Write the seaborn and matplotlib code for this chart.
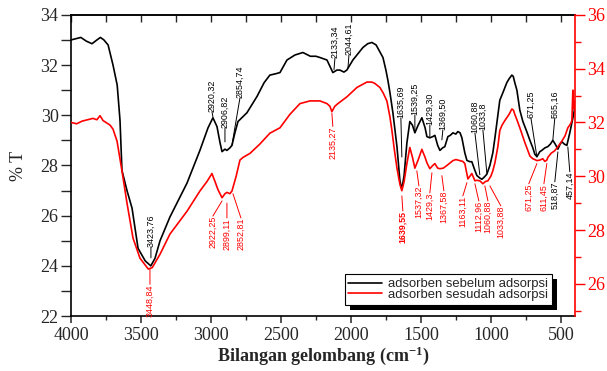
import numpy as np
import pandas as pd
import matplotlib
matplotlib.use("Agg")
import matplotlib.pyplot as plt
import seaborn as sns
from matplotlib import font_manager as fm
from matplotlib.ticker import MultipleLocator
from matplotlib.patches import Rectangle
from matplotlib.transforms import IdentityTransform

# ---------------- data ----------------
wn_before = [4000, 3965, 3930, 3890, 3850, 3815, 3790, 3765, 3735, 3700, 3670, 3650, 3636, 3600,
             3564, 3521, 3470, 3430, 3400, 3364, 3293, 3171, 3079, 3021, 2986, 2957, 2935, 2921,
             2900, 2886, 2865, 2850, 2829, 2807, 2743, 2671, 2620, 2579, 2540, 2507, 2457, 2400,
             2343, 2290, 2250, 2221, 2171, 2150, 2129, 2100, 2079, 2050, 2029, 1986, 1950, 1914,
             1880, 1850, 1820, 1800, 1771, 1750, 1736, 1721, 1700, 1671, 1650, 1636, 1620, 1600,
             1579, 1560, 1543, 1520, 1493, 1470, 1457, 1436, 1415, 1400, 1380, 1364, 1345, 1329,
             1307, 1290, 1271, 1250, 1236, 1220, 1207, 1186, 1171, 1150, 1136, 1114, 1100, 1079,
             1064, 1045, 1029, 1007, 986, 971, 950, 936, 914, 886, 870, 850, 840, 829, 814, 793,
             771, 757, 740, 721, 700, 686, 671, 650, 636, 614, 593, 575, 557, 540, 521, 505, 493,
             475, 457, 436, 421, 410, 400]
t_before = [33.0, 33.05, 33.1, 32.95, 32.85, 33.0, 33.1, 33.0, 32.8, 32.0, 31.2, 29.8, 27.8, 27.0,
            26.3, 24.7, 24.2, 24.0, 24.3, 25.0, 25.95, 27.3, 28.6, 29.5, 29.9, 29.55, 28.9, 28.55,
            28.65, 28.6, 28.7, 28.8, 29.3, 29.75, 30.1, 30.75, 31.3, 31.6, 31.65, 31.7, 32.2, 32.4,
            32.5, 32.35, 32.35, 32.3, 32.2, 31.95, 31.7, 31.8, 31.8, 31.72, 31.8, 32.2, 32.45, 32.7,
            32.85, 32.9, 32.8, 32.6, 32.3, 31.8, 31.4, 30.9, 30.1, 28.75, 27.4, 27.05, 27.6, 28.9,
            29.75, 29.6, 29.3, 29.6, 29.9, 29.5, 29.15, 29.1, 29.15, 29.2, 28.8, 28.6, 28.7, 28.75,
            29.15, 29.2, 29.3, 29.25, 29.35, 29.3, 29.1, 28.5, 28.2, 28.15, 28.15, 27.8, 27.6, 27.5,
            27.45, 27.55, 27.65, 28.0, 28.5, 29.1, 30.0, 30.6, 30.9, 31.3, 31.45, 31.6, 31.55, 31.3, 31.0, 30.2,
            29.75, 29.55, 29.3, 29.0, 28.7, 28.45, 28.35, 28.55, 28.6, 28.7, 28.75, 28.85, 29.0, 28.85, 28.65, 28.85, 28.95,
            28.85, 28.8, 29.3, 29.7, 30.0, 30.3]

wn_after = [4000, 3960, 3920, 3880, 3843, 3815, 3793, 3771, 3736, 3721, 3700, 3671, 3636, 3600,
            3557, 3507, 3470, 3448, 3420, 3364, 3293, 3171, 3079, 3029, 2993, 2971, 2950, 2921,
            2900, 2886, 2865, 2850, 2820, 2793, 2771, 2721, 2650, 2579, 2507, 2436, 2364, 2293,
            2221, 2171, 2150, 2136, 2115, 2093, 2029, 1957, 1886, 1850, 1829, 1793, 1770, 1743,
            1721, 1707, 1690, 1671, 1650, 1636, 1620, 1600, 1579, 1560, 1543, 1520, 1493, 1470,
            1457, 1436, 1415, 1400, 1380, 1364, 1340, 1314, 1290, 1271, 1250, 1221, 1200, 1186,
            1164, 1150, 1136, 1114, 1100, 1079, 1057, 1040, 1021, 1000, 986, 971, 950, 936, 920,
            900, 870, 850, 838, 829, 814, 793, 757, 721, 700, 686, 671, 650, 629, 614, 600, 593,
            570, 543, 521, 493, 470, 450, 430, 421, 414, 408, 404, 400]
t_after = [32.0, 31.95, 32.05, 32.1, 32.15, 32.1, 32.25, 32.07, 31.95, 31.9, 31.75, 31.3, 30.2, 29.0,
           27.7, 26.95, 26.7, 26.55, 26.6, 27.1, 27.85, 28.7, 29.45, 29.8, 30.1, 29.8, 29.5, 29.2,
           29.35, 29.4, 29.35, 29.45, 30.0, 30.6, 30.7, 30.85, 31.2, 31.6, 31.8, 32.3, 32.7, 32.8,
           32.8, 32.7, 32.6, 32.4, 32.6, 32.7, 32.95, 33.3, 33.5, 33.5, 33.45, 33.3, 33.1, 32.8,
           32.2, 31.7, 31.0, 30.3, 29.7, 29.46, 29.8, 30.47, 31.07, 30.7, 30.3, 30.6, 31.0, 30.7,
           30.5, 30.28, 30.4, 30.47, 30.3, 30.28, 30.3, 30.4, 30.5, 30.58, 30.62, 30.58, 30.55, 30.47,
           29.9, 30.0, 30.1, 29.83, 29.85, 29.83, 29.72, 29.8, 29.83, 30.0, 30.2, 30.5, 31.1, 31.7, 31.9,
           32.07, 32.3, 32.5, 32.45, 32.3, 32.1, 31.8, 31.25, 30.75, 30.65, 30.62, 30.58, 30.6, 30.65, 30.55, 30.6, 30.7,
           30.85, 30.95, 31.1, 31.3, 31.5, 31.8, 31.95, 32.07, 33.2, 32.5, 32.8, 32.6]

series_labels = ["adsorben sebelum adsorpsi", "adsorben sesudah adsorpsi"]

# peak labels: (text, text x, text y, tip x, tip y, above?)
labels_before = [
    ("3423,76", 3429, 24.76, 3429, 24.32, True),
    ("2920,32", 2993, 30.14, 2986, 29.94, True),
    ("2906,82", 2900, 29.50, 2900, 28.94, True),
    ("2854,74", 2793, 30.69, 2850, 28.82, True),
    ("2133,34", 2114, 32.29, 2121, 31.81, True),
    ("2044,61", 2014, 32.41, 2021, 31.89, True),
    ("1635,69", 1643, 29.90, 1636, 28.34, True),
    ("1539,25", 1543, 30.02, 1543, 29.34, True),
    ("1429,30", 1436, 29.62, 1436, 29.14, True),
    ("1369,50", 1343, 29.42, 1350, 29.02, True),
    ("1060,88", 1114, 29.30, 1079, 27.63, True),
    ("1033,8", 1057, 29.42, 1029, 27.71, True),
    ("671,25", 714, 29.90, 671, 28.34, True),
    ("565,16", 543, 29.90, 557, 29.02, True),
    ("518,87", 543, 27.35, 521, 28.54, False),
    ("457,14", 436, 27.75, 450, 28.74, False),
]
labels_after = [
    ("3448,84", 3436, 25.98, 3436, 26.54, False),
    ("2922,25", 2986, 28.52, 2921, 29.08, False),
    ("2899,11", 2886, 28.45, 2886, 29.00, False),
    ("2852,81", 2786, 28.45, 2843, 29.35, False),
    ("2135,27", 2129, 31.85, 2136, 32.34, False),
    ("1639,55", 1629, 28.71, 1636, 29.27, False),
    ("1537,32", 1514, 29.64, 1529, 30.20, False),
    ("1429,3", 1436, 29.38, 1421, 30.13, False),
    ("1367,58", 1336, 29.46, 1350, 30.02, False),
    ("1163,11", 1200, 29.27, 1171, 29.76, False),
    ("1112,96", 1086, 29.08, 1114, 29.72, False),
    ("1060,88", 1021, 29.08, 1043, 29.64, False),
    ("1033,88", 929, 28.90, 1007, 29.64, False),
    ("671,25", 729, 29.72, 671, 30.47, False),
    ("611,45", 621, 29.72, 600, 30.47, False),
]

# ---------------- style ----------------
sns.set_style("ticks")
names = {f.name for f in fm.fontManager.ttflist}
narrow = "Liberation Sans Narrow" if "Liberation Sans Narrow" in names else "Liberation Sans"
plt.rcParams["font.family"] = ["Liberation Serif", "DejaVu Serif"]
plt.rcParams["mathtext.fontset"] = "custom"
plt.rcParams["mathtext.rm"] = "Liberation Serif:bold"
plt.rcParams["mathtext.it"] = "Liberation Serif:bold"
plt.rcParams["mathtext.bf"] = "Liberation Serif:bold"

fig = plt.figure(figsize=(6.07, 3.71), dpi=100)
ax = fig.add_axes([0.117, 0.148, 0.830, 0.812])
ax2 = ax.twinx()

df_b = pd.DataFrame({"wn": wn_before, "T": t_before})
df_a = pd.DataFrame({"wn": wn_after, "T": t_after})
sns.lineplot(data=df_b, x="wn", y="T", ax=ax, color="black", lw=1.2, estimator=None,
             label=series_labels[0], legend=False)
sns.lineplot(data=df_a, x="wn", y="T", ax=ax2, color="#ff0000", lw=1.2, estimator=None,
             label=series_labels[1], legend=False)

ax.set_xlim(4000, 400)
ax.set_ylim(22, 34)
ax2.set_ylim(24.8, 36)

ax.xaxis.set_major_locator(MultipleLocator(500))
ax.xaxis.set_minor_locator(MultipleLocator(250))
ax.yaxis.set_major_locator(MultipleLocator(2))
ax.yaxis.set_minor_locator(MultipleLocator(1))
ax2.yaxis.set_major_locator(MultipleLocator(2))
ax2.yaxis.set_minor_locator(MultipleLocator(1))

for s in ax.spines.values():
    s.set_linewidth(1.2)
    s.set_color("black")
for k in ["left", "top", "bottom"]:
    ax2.spines[k].set_visible(False)
ax2.spines["right"].set_color("#ff0000")
ax2.spines["right"].set_linewidth(1.2)
ax.spines["right"].set_visible(False)

ax.tick_params(axis="x", which="major", direction="out", length=5, width=1.1, labelsize=13,
               bottom=True, top=False, pad=3)
ax.tick_params(axis="x", which="minor", direction="out", length=3, width=1.0, bottom=True, top=False)
ax.tick_params(axis="y", which="both", direction="out", length=7, width=1.0, labelsize=13,
               left=True, right=False, pad=2)
ax2.tick_params(axis="y", which="major", direction="out", length=7, width=1.0, colors="#ff0000",
                labelsize=13, pad=2)
ax2.tick_params(axis="y", which="minor", direction="out", length=4, width=1.0, colors="#ff0000")

# inward ticks on top spine
secx = ax.secondary_xaxis("top")
secx.xaxis.set_major_locator(MultipleLocator(500))
secx.xaxis.set_minor_locator(MultipleLocator(250))
secx.tick_params(axis="x", which="both", direction="in", length=5, width=1.0, labeltop=False)
secx.spines["top"].set_linewidth(1.2)

ax.set_xlabel("Bilangan gelombang (cm$^{-1}$)", fontsize=13, fontweight="bold", labelpad=0)
ax.set_ylabel("% T", fontsize=13, labelpad=10)
ax2.set_ylabel("")


def put_labels(axis, specs, color, bold_set=()):
    for txt, tx, ty, px, py, above in specs:
        va = "bottom" if above else "top"
        rel = (0.5, 0.0) if above else (0.5, 1.0)
        axis.annotate(txt, xy=(px, py), xytext=(tx, ty), textcoords="data",
                      rotation=90, ha="center", va=va, fontsize=6.4, color=color,
                      family=[narrow, "DejaVu Sans"],
                      fontweight="bold" if txt in bold_set else "normal",
                      arrowprops=dict(arrowstyle="-", color=color, lw=0.7, relpos=rel,
                                      patchA=None, shrinkA=0, shrinkB=0))


put_labels(ax, labels_before, "black")
put_labels(ax2, labels_after, "#ff0000", bold_set=("1639,55",))

h1, l1 = ax.get_legend_handles_labels()
h2, l2 = ax2.get_legend_handles_labels()
leg = ax2.legend(h1 + h2, l1 + l2, loc="lower right", bbox_to_anchor=(0.955, 0.037),
                 frameon=True, fancybox=False, framealpha=1,
                 edgecolor="black", handlelength=2.6, labelspacing=-0.12,
                 borderpad=0.3, handletextpad=0.45, borderaxespad=0,
                 prop={"family": ["Liberation Sans"], "size": 9.4})
leg.get_frame().set_linewidth(0.8)
leg.set_zorder(6)

# black drop shadow behind the legend box
fig.canvas.draw()
bb = leg.get_frame().get_window_extent()
shadow = Rectangle((bb.x0 + 5, bb.y0 - 5), bb.width, bb.height, transform=IdentityTransform(),
                   facecolor="black", edgecolor="none", zorder=5.5, clip_on=False)
ax2.add_artist(shadow)

fig.savefig("out.png", dpi=100)
